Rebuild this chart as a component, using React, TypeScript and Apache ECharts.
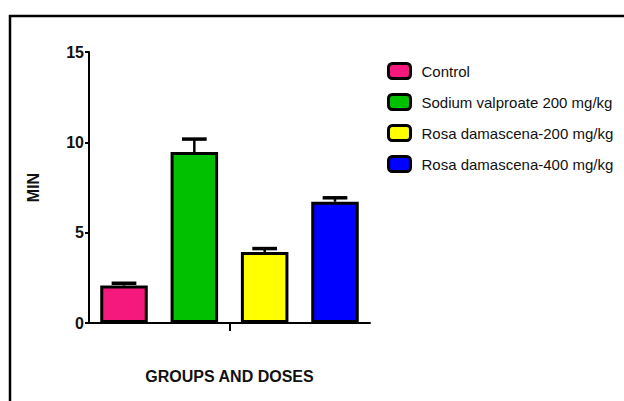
import React, { useEffect, useRef } from "react";
import * as echarts from "echarts";

// Seizure latency (minutes) per treatment group, mean ± SEM
const categories = [""];
const groups = [
  "Control",
  "Sodium valproate 200 mg/kg",
  "Rosa damascena-200 mg/kg",
  "Rosa damascena-400 mg/kg",
];
const means = [2.07, 9.46, 3.93, 6.71];
const sems = [0.13, 0.72, 0.19, 0.22];
const colors = ["#f5187d", "#00c000", "#ffff00", "#0000ff"];
const yMin = 0;
const yMax = 15;
const yStep = 5;

const FONT = "'Liberation Sans', Arial, sans-serif";
const BAR_GAP = 0.48;
const CATEGORY_GAP = 0.08;

export default function App() {
  const ref = useRef<HTMLDivElement>(null);

  useEffect(() => {
    if (!ref.current) return;
    const chart = echarts.init(ref.current, undefined, { renderer: "svg" });

    const barSeries = groups.map((name, i) => ({
      name,
      type: "bar",
      data: [means[i]],
      barGap: `${BAR_GAP * 100}%`,
      barCategoryGap: `${CATEGORY_GAP * 100}%`,
      itemStyle: { color: colors[i], borderColor: "#000", borderWidth: 3 },
      z: 2,
    }));

    // Upper SEM whiskers, laid out with the same band/gap split as the bars
    const errorSeries = {
      type: "custom",
      name: "sem",
      z: 5,
      data: groups.map((_, i) => [0, means[i], means[i] + sems[i], i]),
      renderItem: (params: any, api: any) => {
        const n = groups.length;
        const band = api.size([1, 0])[0];
        const usable = band * (1 - CATEGORY_GAP);
        const bw = usable / (n + (n - 1) * BAR_GAP);
        const idx = api.value(3);
        const center = api.coord([api.value(0), 0])[0];
        const x = center - usable / 2 + idx * bw * (1 + BAR_GAP) + bw / 2;
        const yBase = api.coord([0, api.value(1)])[1];
        const yTop = api.coord([0, api.value(2)])[1];
        const half = bw * 0.26;
        return {
          type: "group",
          children: [
            {
              type: "line",
              shape: { x1: x, y1: yBase, x2: x, y2: yTop },
              style: { stroke: "#000", lineWidth: 2.5 },
            },
            {
              type: "line",
              shape: { x1: x - half, y1: yTop, x2: x + half, y2: yTop },
              style: { stroke: "#000", lineWidth: 3.5 },
            },
          ],
        };
      },
    };

    chart.setOption({
      animation: false,
      backgroundColor: "#ffffff",
      graphic: [
        {
          type: "rect",
          shape: { x: 10, y: 16, width: 700, height: 500 },
          style: { fill: "none", stroke: "#000", lineWidth: 2.5 },
          silent: true,
        },
      ],
      legend: {
        orient: "vertical",
        left: 387,
        top: 62,
        padding: 0,
        itemWidth: 22,
        itemHeight: 15,
        itemGap: 13,
        icon: "roundRect",
        data: groups,
        itemStyle: { borderColor: "#000", borderWidth: 3 },
        textStyle: {
          fontFamily: FONT,
          fontSize: 15,
          color: "#111",
          padding: [0, 0, 0, 6],
        },
      },
      grid: { left: 89, right: 254, top: 52, bottom: 78, containLabel: false },
      xAxis: {
        type: "category",
        data: categories,
        name: "GROUPS AND DOSES",
        nameLocation: "middle",
        nameGap: 45,
        nameTextStyle: {
          fontFamily: FONT,
          fontWeight: "bold",
          fontSize: 16,
          color: "#111",
        },
        axisLine: { lineStyle: { color: "#000", width: 2 } },
        axisTick: {
          show: true,
          interval: 0,
          alignWithLabel: true,
          length: 8,
          lineStyle: { color: "#000", width: 2 },
        },
        axisLabel: { show: true, interval: 0 },
        splitLine: { show: false },
      },
      yAxis: {
        type: "value",
        min: yMin,
        max: yMax,
        interval: yStep,
        name: "MIN",
        nameLocation: "middle",
        nameGap: 48,
        nameTextStyle: {
          fontFamily: FONT,
          fontWeight: "bold",
          fontSize: 16,
          color: "#111",
        },
        axisLine: { show: true, lineStyle: { color: "#000", width: 2 } },
        axisTick: { show: true, length: 4, lineStyle: { color: "#000", width: 2 } },
        axisLabel: {
          fontFamily: FONT,
          fontWeight: "bold",
          fontSize: 16,
          color: "#111",
          margin: 5,
        },
        splitLine: { show: false },
      },
      series: [...barSeries, errorSeries],
    });

    return () => chart.dispose();
  }, []);

  return (
    <div
      ref={ref}
      style={{ position: "fixed", left: 0, top: 0, width: 624, height: 401, background: "#fff" }}
    />
  );
}
